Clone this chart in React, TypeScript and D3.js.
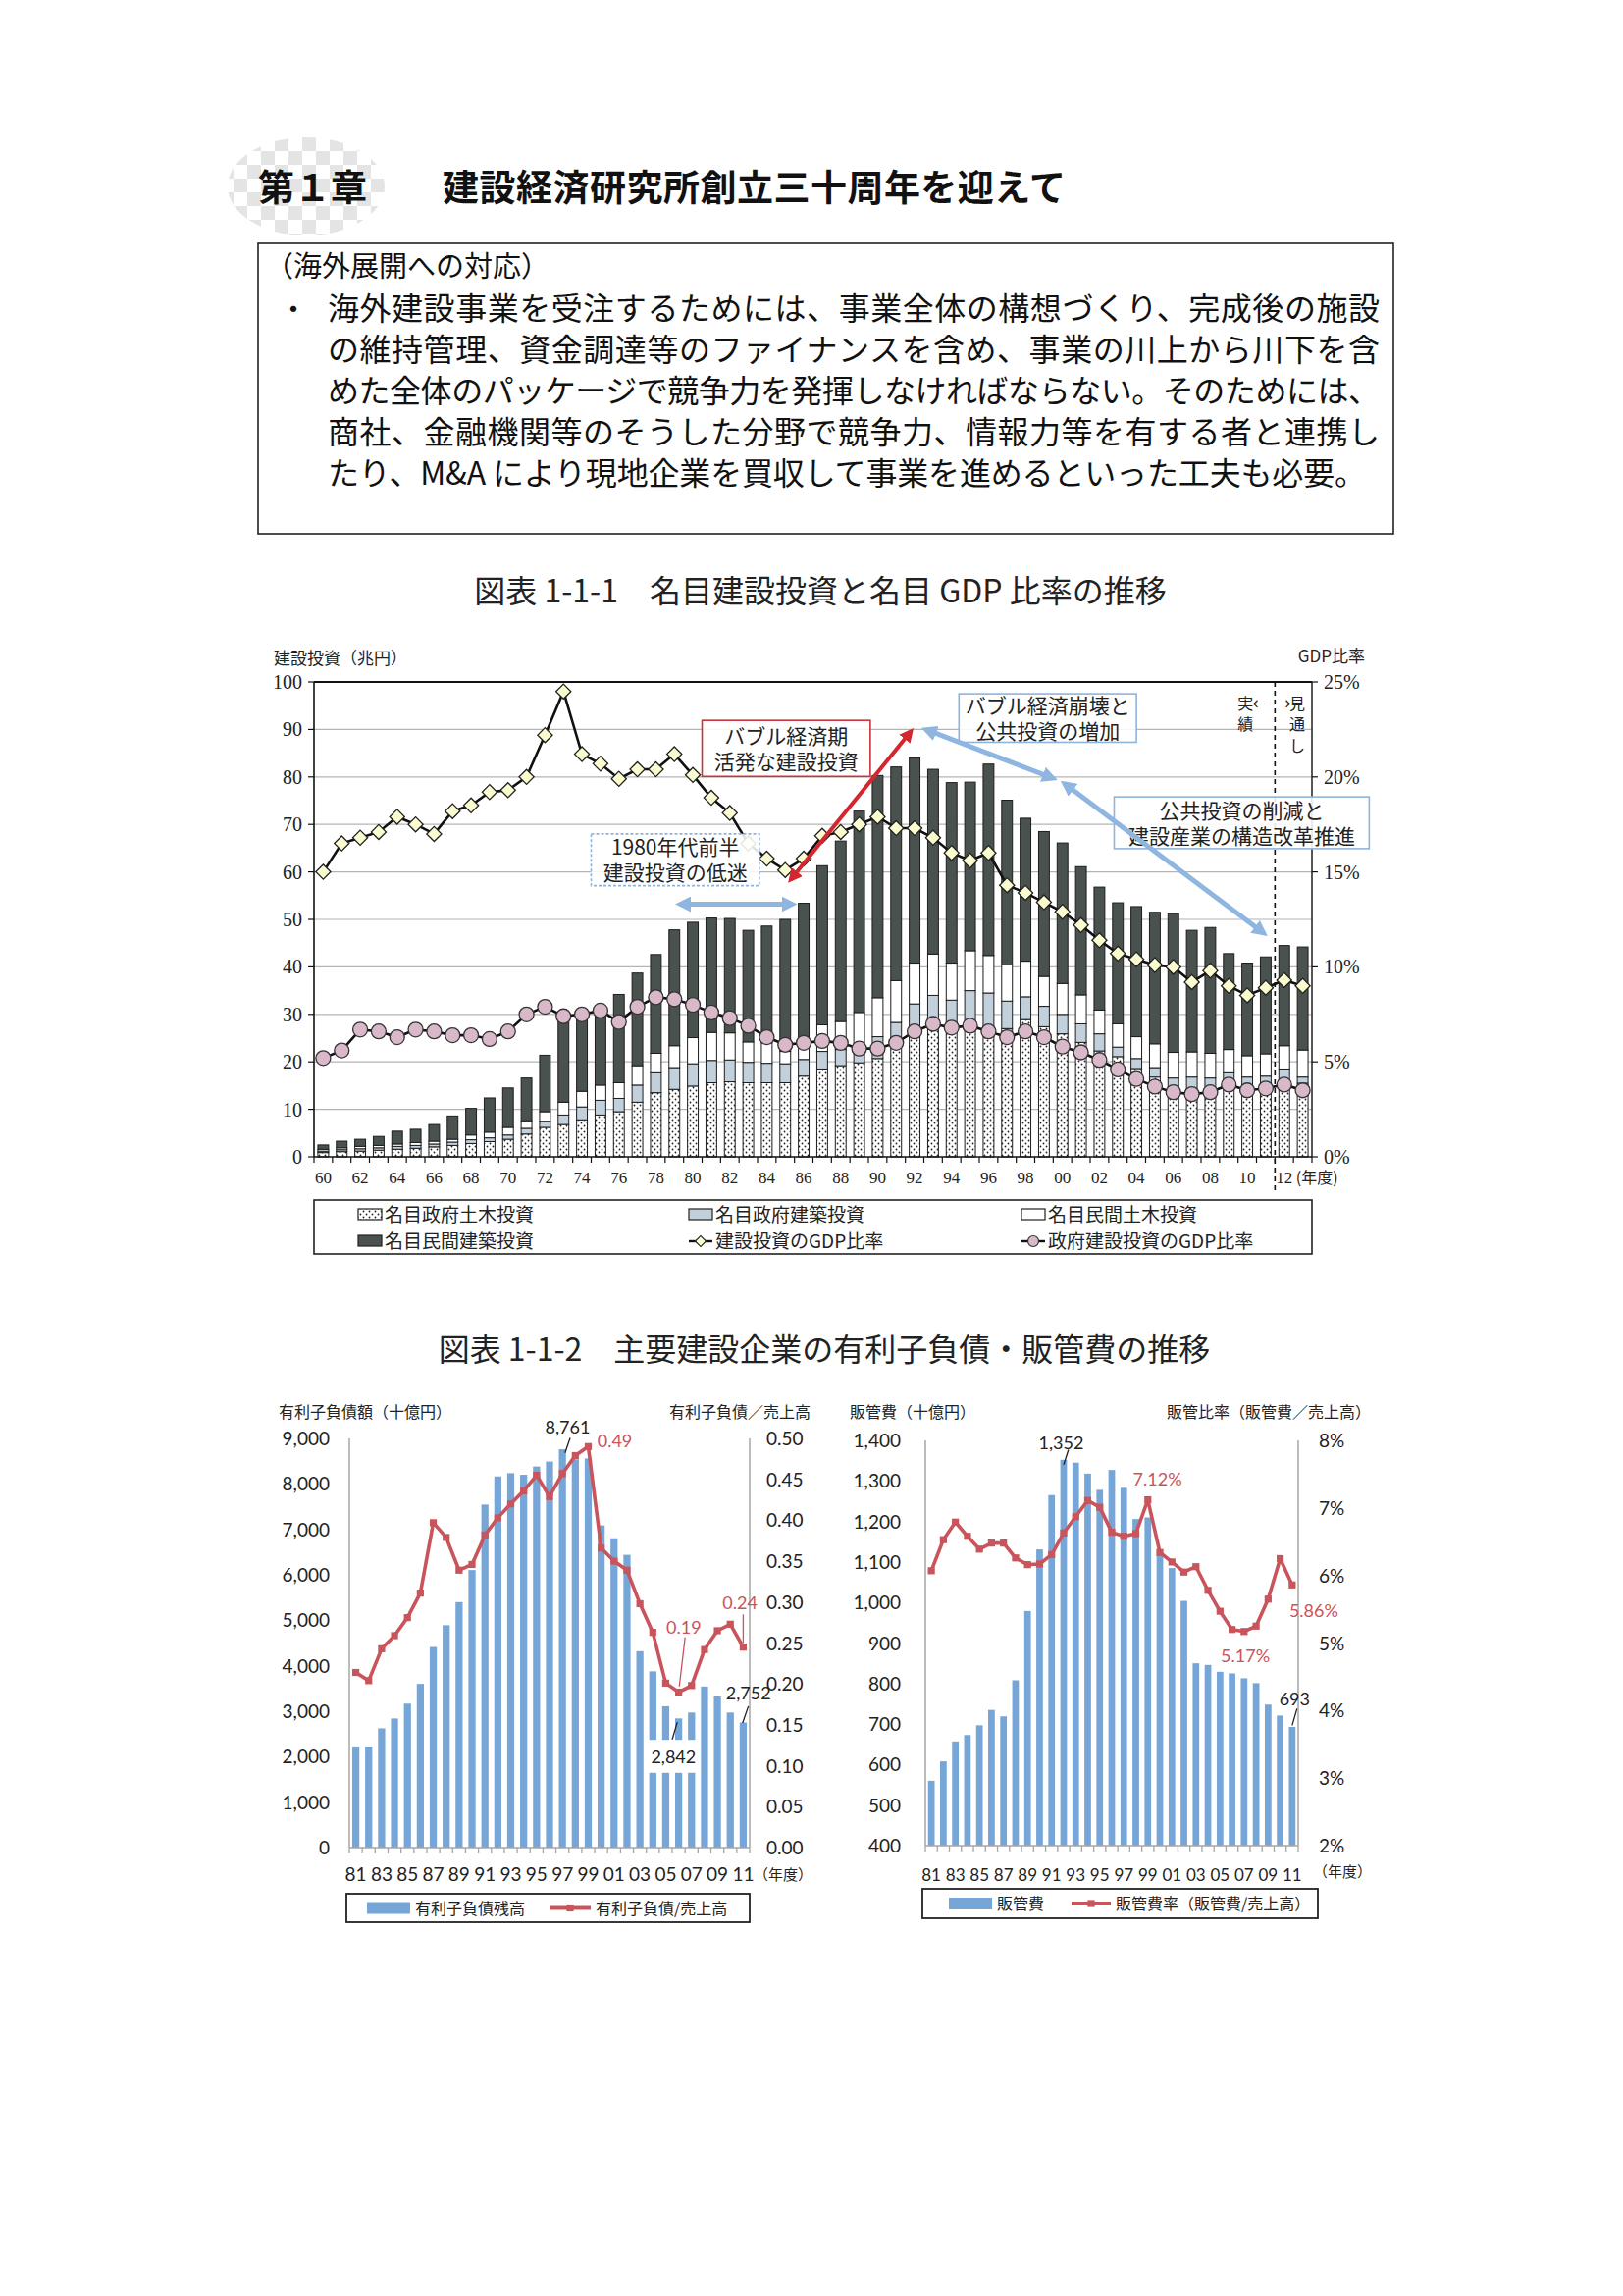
import React from 'react';
import * as d3 from 'd3';

const JP = '"Noto Sans CJK JP", "Noto Sans", sans-serif';
const SERIF = '"Liberation Serif", "DejaVu Serif", serif';
const NUM = 'Lato, "Open Sans", sans-serif';

// ---------- header and text box ----------
const chapterLabel = '第１章';
const chapterTitle = '建設経済研究所創立三十周年を迎えて';
const boxHeading = '（海外展開への対応）';
const boxLines = [
  '海外建設事業を受注するためには、事業全体の構想づくり、完成後の施設',
  'の維持管理、資金調達等のファイナンスを含め、事業の川上から川下を含',
  'めた全体のパッケージで競争力を発揮しなければならない。そのためには、',
  '商社、金融機関等のそうした分野で競争力、情報力等を有する者と連携し',
  'たり、M&A により現地企業を買収して事業を進めるといった工夫も必要。',
];

// ---------- chart 1-1-1 ----------
const title1 = '図表 1-1-1　名目建設投資と名目 GDP 比率の推移';
const years1 = [
  '60', '61', '62', '63', '64', '65', '66', '67', '68', '69',
  '70', '71', '72', '73', '74', '75', '76', '77', '78', '79',
  '80', '81', '82', '83', '84', '85', '86', '87', '88', '89',
  '90', '91', '92', '93', '94', '95', '96', '97', '98', '99',
  '00', '01', '02', '03', '04', '05', '06', '07', '08', '09',
  '10', '11', '12', '13',
];
const xLabels1 = ['60', '62', '64', '66', '68', '70', '72', '74', '76', '78', '80', '82', '84', '86', '88', '90', '92', '94', '96', '98', '00', '02', '04', '06', '08', '10', '12'];
const yTicks1 = [0, 10, 20, 30, 40, 50, 60, 70, 80, 90, 100];
const rTicks1 = [0, 5, 10, 15, 20, 25];

// 兆円
const govCivil = [
  0.9, 1.1, 1.2, 1.4, 1.6, 1.8, 2.1, 2.4, 2.8, 3.2,
  3.7, 4.8, 6.2, 6.8, 7.8, 8.8, 9.5, 11.5, 13.5, 14.2,
  14.9, 15.6, 15.8, 15.6, 15.6, 15.6, 17.0, 18.5, 19.2, 19.8,
  20.7, 23.5, 26.7, 28.3, 27.4, 28.3, 27.0, 27.0, 28.9, 27.4,
  25.9, 24.1, 22.3, 21.1, 18.6, 16.8, 14.7, 14.0, 13.6, 15.1,
  14.4, 15.1, 15.9, 15.5,
];
const govBuild = [
  0.3, 0.4, 0.5, 0.5, 0.6, 0.6, 0.6, 0.7, 0.8, 0.8,
  0.9, 1.2, 1.3, 2.0, 2.7, 3.1, 2.8, 3.6, 4.2, 4.6,
  4.7, 4.7, 4.6, 4.3, 4.1, 4.0, 3.5, 3.7, 3.4, 2.8,
  4.6, 4.8, 5.5, 5.7, 5.6, 6.7, 7.5, 5.8, 4.8, 4.3,
  4.1, 3.9, 3.6, 2.0, 2.1, 2.0, 1.9, 2.8, 3.0, 2.6,
  2.4, 1.9, 2.6, 1.3,
];
const privCivil = [
  0.4, 0.4, 0.5, 0.5, 0.5, 0.6, 0.6, 0.6, 1.0, 1.2,
  1.6, 1.6, 2.0, 2.7, 3.3, 3.2, 3.3, 4.1, 4.1, 4.6,
  5.5, 5.9, 5.7, 4.3, 4.3, 2.6, 2.5, 5.6, 5.9, 7.8,
  8.2, 8.8, 8.6, 8.7, 7.8, 8.4, 7.9, 7.6, 7.5, 6.3,
  6.5, 6.1, 5.0, 4.9, 4.6, 5.0, 5.4, 5.3, 5.2, 4.9,
  4.5, 4.7, 4.9, 5.7,
];
const privBuild = [
  0.9, 1.4, 1.5, 1.9, 2.7, 2.8, 3.5, 4.9, 5.6, 7.2,
  8.3, 9.0, 11.9, 17.8, 15.4, 15.6, 18.6, 19.5, 20.8, 24.4,
  24.3, 24.1, 24.1, 23.5, 24.6, 27.8, 30.4, 33.5, 38.0, 42.4,
  46.8, 45.0, 43.2, 38.9, 38.0, 35.5, 40.3, 34.7, 30.1, 30.5,
  29.6, 27.0, 25.9, 25.5, 27.4, 27.7, 29.2, 25.6, 26.5, 20.2,
  19.5, 20.4, 21.1, 21.7,
];
// %
const gdpRatio = [
  15.0, 16.5, 16.8, 17.1, 17.9, 17.5, 17.0, 18.2, 18.5, 19.2,
  19.3, 20.0, 22.2, 24.5, 21.2, 20.7, 19.9, 20.4, 20.4, 21.2,
  20.1, 18.9, 18.1, 16.5, 15.7, 15.1, 15.7, 16.9, 17.1, 17.5,
  17.9, 17.3, 17.3, 16.8, 16.0, 15.6, 16.0, 14.3, 13.9, 13.4,
  12.9, 12.2, 11.4, 10.7, 10.4, 10.1, 10.0, 9.2, 9.8, 9.0,
  8.5, 8.9, 9.3, 9.0,
];
const govGdpRatio = [
  5.2, 5.6, 6.7, 6.6, 6.3, 6.7, 6.6, 6.4, 6.4, 6.2,
  6.6, 7.5, 7.9, 7.4, 7.5, 7.7, 7.1, 7.9, 8.4, 8.3,
  8.0, 7.6, 7.3, 6.9, 6.3, 5.9, 6.0, 6.1, 6.0, 5.7,
  5.7, 6.0, 6.6, 7.0, 6.8, 6.9, 6.6, 6.3, 6.6, 6.3,
  5.8, 5.5, 5.1, 4.6, 4.1, 3.7, 3.4, 3.3, 3.4, 3.8,
  3.5, 3.6, 3.8, 3.5,
];
const legend1 = ['名目政府土木投資', '名目政府建築投資', '名目民間土木投資', '名目民間建築投資', '建設投資のGDP比率', '政府建設投資のGDP比率'];

// annotation boxes (year, 兆円 axis)
const notes1 = [
  { x0: 1980.5, x1: 1989.6, y0: 91.9, y1: 80.1, lines: ['バブル経済期', '活発な建設投資'], stroke: '#c8343a', dash: '' },
  { x0: 1974.5, x1: 1983.6, y0: 68.0, y1: 57.1, lines: ['1980年代前半', '建設投資の低迷'], stroke: '#8fb4dc', dash: '3,2' },
  { x0: 1994.4, x1: 2004.0, y0: 97.5, y1: 87.3, lines: ['バブル経済崩壊と', '公共投資の増加'], stroke: '#8fb4dc', dash: '' },
  { x0: 2002.8, x1: 2016.6, y0: 75.8, y1: 64.9, lines: ['公共投資の削減と', '建設産業の構造改革推進'], stroke: '#8fb4dc', dash: '' },
];
const arrows1 = [
  { a: [1985.3, 58.4], b: [1991.8, 89.6], color: 'red' },
  { a: [1979.3, 53.2], b: [1985.4, 53.2], color: 'blue' },
  { a: [1992.6, 90.0], b: [1999.5, 79.7], color: 'blue' },
  { a: [2000.1, 78.6], b: [2010.9, 47.1], color: 'blue' },
];

// ---------- chart 1-1-2 ----------
const title2 = '図表 1-1-2　主要建設企業の有利子負債・販管費の推移';
const companyYears = [
  '81', '82', '83', '84', '85', '86', '87', '88', '89', '90',
  '91', '92', '93', '94', '95', '96', '97', '98', '99', '00',
  '01', '02', '03', '04', '05', '06', '07', '08', '09', '10', '11',
];
const xLabels2 = ['81', '83', '85', '87', '89', '91', '93', '95', '97', '99', '01', '03', '05', '07', '09', '11'];

// 十億円
const debt = [
  2225, 2225, 2623, 2840, 3167, 3601, 4413, 4891, 5400, 6105,
  7545, 8164, 8236, 8200, 8382, 8491, 8761, 8540, 8560, 7087,
  6804, 6440, 4320, 3877, 3109, 2842, 2971, 3543, 3326, 2971, 2752,
];
const debtRatio = [
  0.214, 0.204, 0.243, 0.259, 0.281, 0.311, 0.397, 0.379, 0.339, 0.346,
  0.382, 0.403, 0.42, 0.436, 0.455, 0.429, 0.457, 0.479, 0.49, 0.366,
  0.35, 0.339, 0.298, 0.263, 0.201, 0.19, 0.198, 0.242, 0.265, 0.273, 0.245,
];
const debtTicks = [0, 1000, 2000, 3000, 4000, 5000, 6000, 7000, 8000, 9000];
const debtRatioTicks = [0, 0.05, 0.1, 0.15, 0.2, 0.25, 0.3, 0.35, 0.4, 0.45, 0.5];

const sga = [
  560, 608, 657, 673, 697, 735, 719, 808, 979, 1131,
  1265, 1352, 1345, 1318, 1278, 1327, 1283, 1206, 1210, 1120,
  1085, 1004, 850, 846, 829, 825, 813, 801, 748, 721, 693,
];
const sgaRatio = [
  6.07, 6.53, 6.79, 6.58, 6.39, 6.48, 6.48, 6.26, 6.16, 6.17,
  6.31, 6.63, 6.87, 7.11, 7.01, 6.64, 6.58, 6.62, 7.12, 6.34,
  6.2, 6.05, 6.13, 5.78, 5.47, 5.2, 5.17, 5.25, 5.65, 6.25, 5.86,
];
const sgaTicks = [400, 500, 600, 700, 800, 900, 1000, 1100, 1200, 1300, 1400];
const sgaRatioTicks = [2, 3, 4, 5, 6, 7, 8];

const RED = '#c9545b';
const BLUE = '#76a5d8';

type Note = {
  text: string; yr: number; v: number; axis: 'l' | 'r'; color: string;
  anchor?: 'start' | 'middle' | 'end';
  leader?: [number, number, number, number];
  bg?: [number, number, number, number];
};

type DualCfg = {
  L: number; R: number; T: number; B: number;
  yDomain: [number, number]; yTicks: number[]; yFmt: (v: number) => string;
  rDomain: [number, number]; rTicks: number[]; rFmt: (v: number) => string;
  bars: number[]; line: number[];
  leftTitle: string; rightTitle: string; leftTitleX: number; rightTitleX: number;
  leftLabelX: number; rightLabelX: number;
  xFont: number;
  unitX: number; unitY: number;
  legend: { x0: number; x1: number; y0: number; y1: number; barText: string; lineText: string; barX: number; lineX: number; lineW: number };
  notes: Note[];
};

const debtCfg: DualCfg = {
  L: 356, R: 764, T: 1466, B: 1883,
  yDomain: [0, 9000], yTicks: debtTicks, yFmt: d3.format(','),
  rDomain: [0, 0.5], rTicks: debtRatioTicks, rFmt: d3.format('.2f'),
  bars: debt, line: debtRatio,
  leftTitle: '有利子負債額（十億円）', rightTitle: '有利子負債／売上高', leftTitleX: 284, rightTitleX: 826,
  leftLabelX: 336, rightLabelX: 781,
  xFont: 19,
  unitX: 768, unitY: 1910,
  legend: { x0: 353, x1: 764, y0: 1930, y1: 1959, barText: '有利子負債残高', lineText: '有利子負債/売上高', barX: 374, lineX: 560, lineW: 42 },
  notes: [
    { text: '8,761', yr: 1997.4, v: 9233, axis: 'l', color: '#222', leader: [1997.6, 9010, 1997.2, 8680] },
    { text: '0.49', yr: 1999.7, v: 0.497, axis: 'r', color: RED, anchor: 'start' },
    { text: '0.19', yr: 2006.4, v: 0.269, axis: 'r', color: RED, leader: [2006.5, 0.257, 2006.05, 0.197] },
    { text: '0.24', yr: 2010.75, v: 0.298, axis: 'r', color: RED, leader: [2011, 0.285, 2011, 0.25] },
    { text: '2,842', yr: 2005.6, v: 1980, axis: 'l', color: '#222', leader: [2005.5, 2380, 2005.9, 2760], bg: [2003.6, 2007.4, 2370, 1645] },
    { text: '2,752', yr: 2011.4, v: 3384, axis: 'l', color: '#222', leader: [2011.4, 3110, 2010.95, 2740] },
  ],
};

const sgaCfg: DualCfg = {
  L: 943, R: 1323, T: 1468, B: 1881,
  yDomain: [400, 1400], yTicks: sgaTicks, yFmt: d3.format(','),
  rDomain: [2, 8], rTicks: sgaRatioTicks, rFmt: (v) => `${v}%`,
  bars: sga, line: sgaRatio,
  leftTitle: '販管費（十億円）', rightTitle: '販管比率（販管費／売上高）', leftTitleX: 866, rightTitleX: 1397,
  leftLabelX: 918, rightLabelX: 1344,
  xFont: 17,
  unitX: 1338, unitY: 1907,
  legend: { x0: 940, x1: 1343, y0: 1925, y1: 1955, barText: '販管費', lineText: '販管費率（販管費/売上高）', barX: 967, lineX: 1092, lineW: 40 },
  notes: [
    { text: '1,352', yr: 1991.8, v: 1393, axis: 'l', color: '#222', leader: [1992.4, 1377, 1992.0, 1340] },
    { text: '7.12%', yr: 1999.8, v: 7.42, axis: 'r', color: RED },
    { text: '5.17%', yr: 2007.1, v: 4.81, axis: 'r', color: RED },
    { text: '5.86%', yr: 2012.8, v: 5.47, axis: 'r', color: RED },
    { text: '693', yr: 2011.2, v: 760, axis: 'l', color: '#222', leader: [2011.4, 738, 2011.0, 697] },
  ],
};

const Header = () => (
  <g>
    <ellipse cx={312} cy={190} rx={80} ry={50} fill="url(#chk)" opacity={0.45} />
    <text x={263} y={205} fontFamily={JP} fontWeight={700} fontSize={37} fill="#111">{chapterLabel}</text>
    <text x={451} y={205} fontFamily={JP} fontWeight={700} fontSize={37} fill="#111" textLength={635} lengthAdjust="spacing">{chapterTitle}</text>
  </g>
);

const TextBox = () => (
  <g fontFamily={JP} fill="#111">
    <rect x={263} y={248} width={1157} height={296} fill="none" stroke="#222" strokeWidth={1.6} />
    <text x={270} y={282} fontSize={29}>{boxHeading}</text>
    <text x={284} y={326} fontSize={30}>・</text>
    {boxLines.map((l, i) => (
      <text key={i} x={334} y={326 + i * 42} fontSize={32} textLength={i < 4 ? 1072 : 1058} lengthAdjust="spacing">{l}</text>
    ))}
  </g>
);

const Chart1 = () => {
  const L = 320, R = 1337, T = 695, B = 1179;
  const x = d3.scaleBand<string>().domain(years1).range([L, R]).paddingInner(0.42).paddingOuter(0.21);
  const bw = x.bandwidth();
  const xc = d3.scaleLinear().domain([1960, 2013]).range([x(years1[0])! + bw / 2, x(years1[years1.length - 1])! + bw / 2]);
  const y = d3.scaleLinear().domain([0, 100]).range([B, T]);
  const yr = d3.scaleLinear().domain([0, 25]).range([B, T]);
  const rows = years1.map((k, i) => ({ k, gc: govCivil[i], gb: govBuild[i], pc: privCivil[i], pb: privBuild[i] }));
  const keys = ['gc', 'gb', 'pc', 'pb'];
  const series = d3.stack<any>().keys(keys)(rows);
  const fills: Record<string, string> = { gc: 'url(#dots)', gb: '#c2d0dc', pc: '#ffffff', pb: '#4a524f' };
  const line = d3.line<number>().x((_, i) => xc(1960 + i)).y((d) => yr(d));
  const diamond = d3.symbol(d3.symbolSquare, 115)()!;
  const step = x.step();
  const dashX = (xc(2011) + xc(2012)) / 2;

  return (
    <g>
      <text x={836} y={614} textAnchor="middle" fontFamily={JP} fontSize={32} fill="#222">{title1}</text>
      <text x={279} y={677} fontFamily={JP} fontSize={17} fill="#222">建設投資（兆円）</text>
      <text x={1391} y={675} textAnchor="end" fontFamily={JP} fontSize={17} fill="#222">GDP比率</text>

      {yTicks1.slice(1, -1).map((t) => (
        <line key={t} x1={L} x2={R} y1={y(t)} y2={y(t)} stroke="#b4b4b4" strokeWidth={1.2} />
      ))}

      {series.map((s) => (
        <g key={s.key} fill={fills[s.key]} stroke="#1d1d1d" strokeWidth={1}>
          {s.map((d: any, i: number) => (
            <rect key={i} x={x(d.data.k)} y={y(d[1])} width={bw} height={Math.max(0, y(d[0]) - y(d[1]))} />
          ))}
        </g>
      ))}

      <line x1={L} x2={R} y1={T} y2={T} stroke="#111" strokeWidth={2.2} />
      <line x1={L} x2={L} y1={T} y2={B} stroke="#111" strokeWidth={1.6} />
      <line x1={R} x2={R} y1={T} y2={B} stroke="#111" strokeWidth={1.4} />
      <line x1={L} x2={R} y1={B} y2={B} stroke="#111" strokeWidth={1.6} />
      {d3.range(years1.length + 1).map((i) => (
        <line key={i} x1={L + i * step} x2={L + i * step} y1={B} y2={B + 6} stroke="#111" strokeWidth={1.2} />
      ))}
      {yTicks1.map((t) => (
        <g key={t}>
          <line x1={L - 6} x2={L} y1={y(t)} y2={y(t)} stroke="#111" strokeWidth={1.2} />
          <text x={308} y={y(t) + 7} textAnchor="end" fontFamily={SERIF} fontSize={20} fill="#222">{t}</text>
        </g>
      ))}
      {rTicks1.map((t) => (
        <g key={t}>
          <line x1={R} x2={R + 6} y1={yr(t)} y2={yr(t)} stroke="#111" strokeWidth={1.2} />
          <text x={1349} y={yr(t) + 7} fontFamily={SERIF} fontSize={20} fill="#222">{t}%</text>
        </g>
      ))}
      {xLabels1.map((t) => (
        <text key={t} x={x(t)! + bw / 2} y={1206} textAnchor="middle" fontFamily={SERIF} fontSize={17} fill="#222">{t}</text>
      ))}
      <text x={x('12')! + bw / 2 + 12} y={1206} fontFamily={JP} fontSize={16} fill="#222">(年度)</text>

      <line x1={dashX} x2={dashX} y1={T} y2={1214} stroke="#111" strokeWidth={1.6} strokeDasharray="5,4" />
      <g fontFamily={JP} fontSize={16} fill="#222">
        <text x={xc(2009.9)} y={y(95.5) + 6} textAnchor="middle">実</text>
        <text x={xc(2010.7)} y={y(95.5) + 6} textAnchor="middle">←</text>
        <text x={xc(2009.9)} y={y(91.1) + 6} textAnchor="middle">績</text>
        <text x={xc(2011.95)} y={y(95.5) + 6} textAnchor="middle">→</text>
        <text x={xc(2012.7)} y={y(95.5) + 6} textAnchor="middle">見</text>
        <text x={xc(2012.7)} y={y(91.1) + 6} textAnchor="middle">通</text>
        <text x={xc(2012.7)} y={y(86.6) + 6} textAnchor="middle">し</text>
      </g>

      <path d={line(gdpRatio)!} fill="none" stroke="#111" strokeWidth={2.6} />
      <path d={line(govGdpRatio)!} fill="none" stroke="#111" strokeWidth={2.6} />
      {gdpRatio.map((v, i) => (
        <path key={i} d={diamond} transform={`translate(${xc(1960 + i)},${yr(v)}) rotate(45)`} fill="#fbfbd0" stroke="#222" strokeWidth={1.3} />
      ))}
      {govGdpRatio.map((v, i) => (
        <circle key={i} cx={xc(1960 + i)} cy={yr(v)} r={7.5} fill="#d8b8c9" stroke="#333" strokeWidth={1.3} />
      ))}

      {notes1.map((n, i) => {
        const bx = xc(n.x0), by = y(n.y0), w = xc(n.x1) - bx, h = y(n.y1) - by;
        return (
          <g key={i}>
            <rect x={bx} y={by} width={w} height={h} fill="#fff" fillOpacity={0.88} stroke={n.stroke} strokeWidth={1.6} strokeDasharray={n.dash} />
            {n.lines.map((l, j) => (
              <text key={j} x={bx + w / 2} y={by + h / 2 + (j - 0.5) * 26 + 8} textAnchor="middle" fontFamily={JP} fontSize={21} fill="#222">{l}</text>
            ))}
          </g>
        );
      })}
      {arrows1.map((a, i) => (
        <line key={i} x1={xc(a.a[0])} y1={y(a.a[1])} x2={xc(a.b[0])} y2={y(a.b[1])}
          stroke={a.color === 'red' ? '#d3262e' : '#8fb6e0'} strokeWidth={a.color === 'red' ? 4 : 5}
          markerStart={a.color === 'red' ? 'url(#ahRed)' : 'url(#ahBlue)'} markerEnd={a.color === 'red' ? 'url(#ahRed)' : 'url(#ahBlue)'} />
      ))}

      {/* legend */}
      <rect x={L} y={1223} width={R - L} height={55} fill="#fff" stroke="#222" strokeWidth={1.6} />
      {legend1.map((lab, i) => {
        const col = i % 3, row = Math.floor(i / 3);
        const sx = [365, 702, 1041][col];
        const sy = [1238, 1265][row];
        let sw: React.ReactNode;
        if (i < 4) {
          const f = [fills.gc, fills.gb, fills.pc, fills.pb][i];
          sw = <rect x={sx} y={sy - 6} width={24} height={11} fill={f} stroke="#222" strokeWidth={1.2} />;
        } else if (i === 4) {
          sw = (
            <g>
              <line x1={sx} x2={sx + 24} y1={sy} y2={sy} stroke="#111" strokeWidth={2.4} />
              <path d={d3.symbol(d3.symbolSquare, 60)()!} transform={`translate(${sx + 12},${sy}) rotate(45)`} fill="#fbfbd0" stroke="#222" strokeWidth={1.2} />
            </g>
          );
        } else {
          sw = (
            <g>
              <line x1={sx} x2={sx + 24} y1={sy} y2={sy} stroke="#111" strokeWidth={2.4} />
              <circle cx={sx + 12} cy={sy} r={5.5} fill="#d8b8c9" stroke="#333" strokeWidth={1.2} />
            </g>
          );
        }
        return (
          <g key={lab}>
            {sw}
            <text x={sx + 27} y={sy + 7} fontFamily={JP} fontSize={19} fill="#222">{lab}</text>
          </g>
        );
      })}
    </g>
  );
};

const DualChart = ({ c }: { c: DualCfg }) => {
  const x = d3.scaleBand<string>().domain(companyYears).range([c.L, c.R]).paddingInner(0.45).paddingOuter(0.225);
  const bw = x.bandwidth();
  const step = x.step();
  const xc = d3.scaleLinear().domain([1981, 2011]).range([x(companyYears[0])! + bw / 2, x(companyYears[companyYears.length - 1])! + bw / 2]);
  const y = d3.scaleLinear().domain(c.yDomain).range([c.B, c.T]);
  const yr = d3.scaleLinear().domain(c.rDomain).range([c.B, c.T]);
  const line = d3.line<number>().x((_, i) => xc(1981 + i)).y((d) => yr(d));
  const sq = d3.symbol(d3.symbolSquare, 52)()!;
  const ys = (n: Note, v: number) => (n.axis === 'l' ? y(v) : yr(v));
  const lg = c.legend;
  const lgMid = (lg.y0 + lg.y1) / 2;

  return (
    <g>
      <text x={c.leftTitleX} y={1445} fontFamily={JP} fontSize={16} fill="#222">{c.leftTitle}</text>
      <text x={c.rightTitleX} y={1445} textAnchor="end" fontFamily={JP} fontSize={16} fill="#222">{c.rightTitle}</text>

      {c.bars.map((v, i) => (
        <rect key={i} x={x(companyYears[i])} y={y(v)} width={bw} height={y(c.yDomain[0]) - y(v)} fill={BLUE} />
      ))}

      <line x1={c.L} x2={c.L} y1={c.T} y2={c.B} stroke="#a6a6a6" strokeWidth={1.5} />
      <line x1={c.R} x2={c.R} y1={c.T} y2={c.B} stroke="#a6a6a6" strokeWidth={1.5} />
      <line x1={c.L} x2={c.R} y1={c.B} y2={c.B} stroke="#a6a6a6" strokeWidth={1.5} />
      {d3.range(companyYears.length + 1).map((i) => (
        <line key={i} x1={c.L + i * step} x2={c.L + i * step} y1={c.B} y2={c.B + 6} stroke="#a6a6a6" strokeWidth={1.3} />
      ))}
      {c.yTicks.map((t) => (
        <text key={t} x={c.leftLabelX} y={y(t) + 7} textAnchor="end" fontFamily={NUM} fontSize={19} fill="#222">{c.yFmt(t)}</text>
      ))}
      {c.rTicks.map((t) => (
        <text key={t} x={c.rightLabelX} y={yr(t) + 7} fontFamily={NUM} fontSize={19} fill="#222">{c.rFmt(t)}</text>
      ))}
      {xLabels2.map((t) => (
        <text key={t} x={x(t)! + bw / 2} y={1917} textAnchor="middle" fontFamily={NUM} fontSize={c.xFont} fill="#222">{t}</text>
      ))}
      <text x={c.unitX} y={c.unitY + 6} fontFamily={JP} fontSize={15} fill="#222">（年度）</text>

      {c.notes.filter((n) => n.bg).map((n, i) => (
        <rect key={i} x={xc(n.bg![0])} y={ys(n, n.bg![2])} width={xc(n.bg![1]) - xc(n.bg![0])} height={ys(n, n.bg![3]) - ys(n, n.bg![2])} fill="#fff" />
      ))}

      <path d={line(c.line)!} fill="none" stroke={RED} strokeWidth={3.6} strokeLinejoin="round" />
      {c.line.map((v, i) => (
        <path key={i} d={sq} transform={`translate(${xc(1981 + i)},${yr(v)})`} fill={RED} />
      ))}

      {c.notes.map((n, i) => (
        <g key={i}>
          {n.leader && (
            <line x1={xc(n.leader[0])} y1={ys(n, n.leader[1])} x2={xc(n.leader[2])} y2={ys(n, n.leader[3])} stroke={n.color} strokeWidth={1.3} />
          )}
          <text x={xc(n.yr)} y={ys(n, n.v) + 6} textAnchor={n.anchor || 'middle'} fontFamily={NUM} fontSize={18} fill={n.color}>{n.text}</text>
        </g>
      ))}

      <rect x={lg.x0} y={lg.y0} width={lg.x1 - lg.x0} height={lg.y1 - lg.y0} fill="#fff" stroke="#222" strokeWidth={1.8} />
      <rect x={lg.barX} y={lgMid - 6} width={44} height={12} fill={BLUE} />
      <text x={lg.barX + 49} y={lgMid + 6} fontFamily={JP} fontSize={16} fill="#222">{lg.barText}</text>
      <line x1={lg.lineX} x2={lg.lineX + lg.lineW} y1={lgMid} y2={lgMid} stroke={RED} strokeWidth={4} />
      <path d={sq} transform={`translate(${lg.lineX + lg.lineW / 2},${lgMid})`} fill={RED} />
      <text x={lg.lineX + lg.lineW + 5} y={lgMid + 6} fontFamily={JP} fontSize={16} fill="#222">{lg.lineText}</text>
    </g>
  );
};

export default function App() {
  return (
    <svg width={1654} height={2340} viewBox="0 0 1654 2340" style={{ position: 'absolute', left: 0, top: 0, background: '#fff' }}>
      <defs>
        <pattern id="chk" width={28} height={28} patternUnits="userSpaceOnUse">
          <rect width={14} height={14} fill="#c4c4c4" />
          <rect x={14} y={14} width={14} height={14} fill="#c4c4c4" />
        </pattern>
        <pattern id="dots" width={6} height={6} patternUnits="userSpaceOnUse">
          <rect width={6} height={6} fill="#fff" />
          <circle cx={1.5} cy={1.5} r={0.9} fill="#222" />
          <circle cx={4.5} cy={4.5} r={0.9} fill="#222" />
        </pattern>
        <marker id="ahRed" viewBox="0 0 10 10" refX={7} refY={5} markerWidth={3.6} markerHeight={3.6} orient="auto-start-reverse">
          <path d="M0,0 L10,5 L0,10 z" fill="#d3262e" />
        </marker>
        <marker id="ahBlue" viewBox="0 0 10 10" refX={7} refY={5} markerWidth={3.2} markerHeight={3.2} orient="auto-start-reverse">
          <path d="M0,0 L10,5 L0,10 z" fill="#8fb6e0" />
        </marker>
      </defs>
      <rect width={1654} height={2340} fill="#fff" />
      <Header />
      <TextBox />
      <Chart1 />
      <text x={840} y={1387} textAnchor="middle" fontFamily={JP} fontSize={32} fill="#222">{title2}</text>
      <DualChart c={debtCfg} />
      <DualChart c={sgaCfg} />
    </svg>
  );
}
